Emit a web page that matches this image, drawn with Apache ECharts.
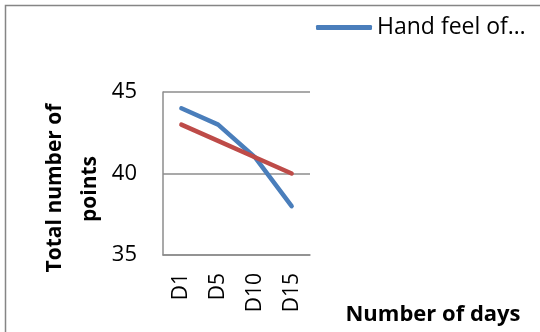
<!DOCTYPE html>
<html><head><meta charset="utf-8">
<script src="https://cdn.jsdelivr.net/npm/echarts@6/dist/echarts.min.js"></script>
<style>html,body{margin:0;padding:0;background:#fff}#c{width:540px;height:332px}</style>
</head><body><div id="c"></div>
<script>
const categories = ['D1', 'D5', 'D10', 'D15'];
const seriesNames = ['Hand feel of\u2026', 'Series 2'];
const blueValues = [44, 43, 41, 38];
const redValues = [43, 42, 41, 40];
const yTicks = { min: 35, max: 45, interval: 5 };

const chart = echarts.init(document.getElementById('c'));
const font = '"Open Sans", "DejaVu Sans", sans-serif';
chart.setOption({
  animation: false,
  backgroundColor: '#fff',
  graphic: [
    { type: 'rect', shape: { x: 5.5, y: 5.5, width: 560, height: 360 }, style: { fill: 'none', stroke: '#858585', lineWidth: 1.5 } },
    { type: 'text', x: 55, y: 188, rotation: Math.PI / 2, style: { text: 'Total number of', font: 'bold 21px ' + font, fill: '#000', align: 'center', verticalAlign: 'middle' } },
    { type: 'text', x: 90, y: 189, rotation: Math.PI / 2, style: { text: 'points', font: 'bold 21px ' + font, fill: '#000', align: 'center', verticalAlign: 'middle' } },
    { type: 'text', x: 433, y: 314.5, style: { text: 'Number of days', font: 'bold 22px ' + font, fill: '#000', align: 'center', verticalAlign: 'middle' } }
  ],
  legend: {
    data: [seriesNames[0]],
    left: 316, top: 16,
    icon: 'roundRect', itemWidth: 56, itemHeight: 5, itemGap: 4,
    textStyle: { fontFamily: font, fontSize: 23, color: '#000', padding: [0, 0, 0, 0] },
    padding: 0
  },
  grid: { left: 163, top: 92, width: 147, height: 163, containLabel: false },
  xAxis: {
    type: 'category', data: categories, boundaryGap: true,
    axisLine: { show: true, lineStyle: { color: '#8c8c8c', width: 1.5 } },
    axisTick: { show: false },
    axisLabel: { rotate: 90, margin: 18, fontFamily: font, fontSize: 21, color: '#000' }
  },
  yAxis: {
    type: 'value', min: yTicks.min, max: yTicks.max, interval: yTicks.interval,
    axisLine: { show: true, lineStyle: { color: '#8c8c8c', width: 1.5 } },
    axisTick: { show: false },
    splitLine: { show: true, lineStyle: { color: '#8c8c8c', width: 1.5 } },
    axisLabel: { margin: 26, fontFamily: font, fontSize: 22, color: '#000' }
  },
  series: [
    { name: seriesNames[0], type: 'line', data: blueValues, symbol: 'none', color: '#4a7ebb',
      lineStyle: { width: 4.5, color: '#4a7ebb', cap: 'round', join: 'round' } },
    { name: seriesNames[1], type: 'line', data: redValues, symbol: 'none', color: '#be4b48',
      lineStyle: { width: 4.5, color: '#be4b48', cap: 'round', join: 'round' } }
  ]
});
</script></body></html>
